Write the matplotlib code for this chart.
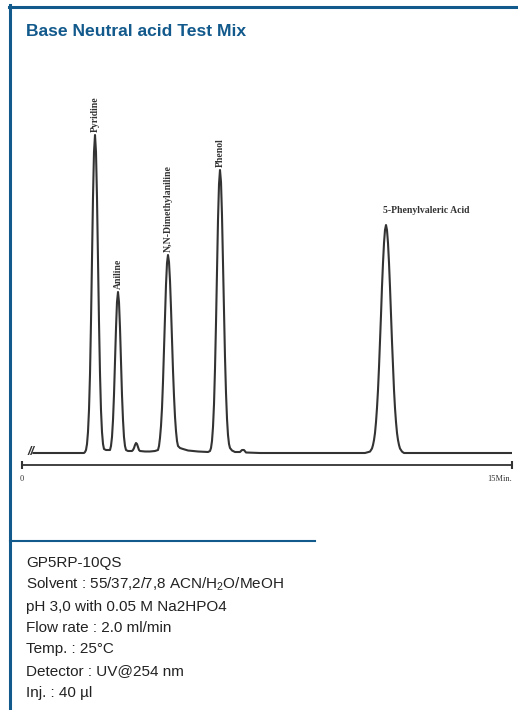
import matplotlib
matplotlib.use('Agg')
import matplotlib.pyplot as plt
from matplotlib.lines import Line2D

title = "Base Neutral acid Test Mix"

peak_names = ['Pyridine', 'Aniline', 'N,N-Dimethylaniline', 'Phenol', '5-Phenylvaleric Acid']
peak_times = [2.235, 2.939, 4.469, 6.061, 11.143]
peak_heights = [318, 161, 198, 283, 228]

# detector trace (min, signal)
time_min = [0.35, 1.898, 1.929, 1.959, 1.990, 2.020, 2.051, 2.082, 2.112, 2.143, 2.173, 2.204,
            2.235, 2.265, 2.296, 2.327, 2.357, 2.388, 2.418, 2.449, 2.480, 2.510, 2.571, 2.633,
            2.694, 2.724, 2.755, 2.786, 2.816, 2.847, 2.878, 2.908, 2.939, 2.969, 3.000, 3.031,
            3.061, 3.092, 3.122, 3.153, 3.184, 3.245, 3.367,
            3.398, 3.429, 3.459, 3.490, 3.520, 3.551, 3.582, 3.612, 3.765, 3.918, 4.071,
            4.163, 4.194, 4.224, 4.255, 4.286, 4.316, 4.347, 4.378, 4.408, 4.439, 4.469, 4.500,
            4.531, 4.561, 4.592, 4.622, 4.653, 4.684, 4.714, 4.745, 4.776, 4.837, 4.929, 5.082,
            5.388, 5.694,
            5.755, 5.786, 5.816, 5.847, 5.878, 5.908, 5.939, 5.969, 6.000, 6.031, 6.061, 6.092,
            6.122, 6.153, 6.184, 6.214, 6.245, 6.276, 6.306, 6.337, 6.367, 6.429, 6.520,
            6.673, 6.735, 6.796, 6.857, 7.286, 10.500,
            10.653, 10.714, 10.745, 10.776, 10.806, 10.837, 10.867, 10.898, 10.929, 10.959, 10.990,
            11.020, 11.051, 11.082, 11.112, 11.143, 11.173, 11.204, 11.235, 11.265, 11.296, 11.327,
            11.357, 11.388, 11.418, 11.449, 11.480, 11.510, 11.541, 11.571, 11.633, 11.694, 15.0]
signal = [0, 0, 1, 3, 9, 21, 43, 79, 131, 193, 255, 301,
          318, 301, 255, 193, 131, 79, 43, 21, 9, 4, 3, 3,
          3, 7, 16, 33, 58, 91, 125, 151, 161, 151, 125, 91,
          58, 33, 16, 7, 3, 2, 2,
          3, 5, 8, 10, 9, 6, 3, 2, 1.5, 1.5, 2,
          3, 7, 15, 27, 45, 71, 103, 137, 168, 190, 198, 191,
          172, 145, 114, 83, 57, 36, 22, 12, 7, 5, 4, 2.5,
          1.5, 1,
          2, 5, 12, 26, 49, 84, 130, 182, 233, 269, 283, 271,
          238, 192, 142, 96, 60, 34, 18, 9, 5, 2.5, 1,
          1, 3, 3, 0.5, 0, 0,
          1.4, 4.5, 8, 13, 20, 31, 45, 63, 86, 111, 138,
          166, 190, 210, 223, 228, 223, 210, 190, 166, 138, 111,
          86, 63, 45, 31, 20, 13, 8, 4.5, 1.4, 0, 0]

conditions = ['GP5RP-10QS',
              'Solvent : 55/37,2/7,8 ACN/H$_2$O/MeOH',
              'pH 3,0 with 0.05 M Na2HPO4',
              'Flow rate : 2.0 ml/min',
              'Temp. : 25°C',
              'Detector : UV@254 nm',
              'Inj. : 40 µl']

blue = '#12598c'
ink = '#333333'
W, H = 518, 710

plt.rcParams['font.family'] = ['Liberation Sans', 'DejaVu Sans']
plt.rcParams['mathtext.default'] = 'regular'

fig = plt.figure(figsize=(W / 100, H / 100), dpi=100)

# frame
fig.add_artist(Line2D([9.5 / W, 9.5 / W], [0, 1 - 5 / H], color=blue, lw=2.2))
fig.add_artist(Line2D([8.5 / W, 1], [1 - 6.5 / H, 1 - 6.5 / H], color=blue, lw=2.2))
fig.add_artist(Line2D([9.5 / W, 315 / W], [1 - 541 / H, 1 - 541 / H], color=blue, lw=1.5))

fig.text(26 / W, 1 - 35.5 / H, title, color=blue, fontsize=12.6, fontweight='bold', va='baseline')

ax = fig.add_axes([22 / W, 1 - 490 / H, 490 / W, 410 / H])
ax.plot(time_min, signal, color=ink, lw=1.5)
ax.set_xlim(0, 15)
ax.set_ylim(-37, 373)

for name, t, h in zip(peak_names, peak_times, peak_heights):
    if name.startswith('5-'):
        ax.text(t - 0.1, h + 10, name, fontsize=7, family='Liberation Serif', fontweight='bold',
                color=ink, ha='left', va='bottom')
    else:
        ax.text(t, h + 3, name, fontsize=7, family='Liberation Serif', fontweight='bold',
                color=ink, rotation=90, ha='center', va='bottom')

ax.text(0.28, 1, '//', fontsize=9, color=ink, ha='center', va='center', style='italic',
        fontweight='bold')

for s in ['top', 'left', 'right']:
    ax.spines[s].set_visible(False)
ax.spines['bottom'].set_position(('data', -12))
ax.spines['bottom'].set_color(ink)
ax.spines['bottom'].set_linewidth(1.3)
ax.set_yticks([])
ax.set_xticks([0, 15])
ax.set_xticklabels(['0', '15Min.'], family='Liberation Serif', fontsize=6, color=ink)
ax.get_xticklabels()[1].set_ha('right')
ax.tick_params(axis='x', direction='inout', length=6, width=1.5, color=ink, pad=4)
ax.patch.set_visible(False)

for i, line in enumerate(conditions):
    fig.text(26 / W, 1 - (567.5 + i * 21.5) / H, line, fontsize=11, color='#222222', va='baseline')

plt.savefig('out.png', dpi=100)
